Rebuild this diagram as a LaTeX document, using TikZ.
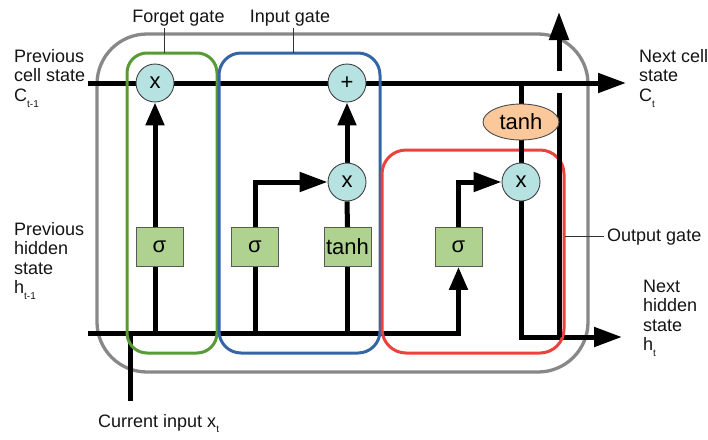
\documentclass[tikz,border=0pt]{standalone}
\usepackage{fontspec}
\setmainfont{Liberation Sans}
\usetikzlibrary{arrows.meta,shapes.geometric}

\pgfdeclarelayer{frame}
\pgfdeclarelayer{wires}
\pgfdeclarelayer{gates}
\pgfdeclarelayer{overwires}
\pgfsetlayers{frame,wires,gates,overwires,main}

\definecolor{opfill}{RGB}{182,226,226}
\definecolor{actfill}{RGB}{175,210,145}
\definecolor{tanhfill}{RGB}{250,200,155}
\definecolor{forgetgreen}{RGB}{88,155,52}
\definecolor{inputblue}{RGB}{52,101,164}
\definecolor{outputred}{RGB}{236,66,62}
\definecolor{cellgray}{RGB}{136,136,136}
\definecolor{inktext}{RGB}{20,20,20}

\newcommand\lsub[1]{\raisebox{-0.32em}{\fontsize{10pt}{10pt}\selectfont #1}}

\tikzset{
  bigtip/.tip={Triangle[length=28pt,width=19pt]},
  vtip/.tip={Triangle[length=23pt,width=18pt]},
  wire/.style={line width=5pt,black},
  opnode/.style={circle,draw=black!75,line width=0.9pt,fill=opfill,
    minimum size=38pt,inner sep=0pt,font=\fontsize{22pt}{22pt}\selectfont},
  actbox/.style={rectangle,draw=black!65,line width=0.9pt,fill=actfill,
    minimum width=47pt,minimum height=39pt,inner sep=0pt,
    font=\fontsize{22pt}{22pt}\selectfont},
  tanhnode/.style={ellipse,draw=black!70,line width=0.9pt,fill=tanhfill,
    minimum width=76pt,minimum height=36pt,inner sep=0pt,
    font=\fontsize{22pt}{22pt}\selectfont},
  gatebox/.style={rectangle,draw,line width=3pt,rounded corners=#1,inner sep=0pt},
  lbl/.style={inner sep=0pt,align=left,text=inktext,
    font=\fontsize{18pt}{19.5pt}\selectfont},
  leader/.style={line width=1pt,black!80},
}

\begin{document}
\begin{tikzpicture}[x=1pt,y=-1pt]
\useasboundingbox (0,0) rectangle (708,439);

% operation nodes
\node[opnode] (fx) at (155,83) {x};
\node[opnode] (plus) at (347,83) {+};
\node[opnode] (ix) at (347,182) {x};
\node[opnode] (ox) at (521,182) {x};
\node[tanhnode] (th) at (521,122) {tanh};
\node[actbox] (fs) at (159.5,247) {σ};
\node[actbox] (is) at (255,247) {σ};
\node[actbox] (tb) at (347.5,247) {tanh};
\node[actbox] (os) at (458.5,247) {σ};

% free ends of the wires
\coordinate (cin) at (88,83);
\coordinate (cout) at (626,83);
\coordinate (hin) at (88,333);
\coordinate (hout) at (622,337);
\coordinate (xin) at (130,401);
\coordinate (ftap) at (155,333);
\coordinate (itap) at (255,333);
\coordinate (ttap) at (347.5,333);
\coordinate (upbase) at (559,337);
\coordinate (upgapa) at (559,93);
\coordinate (upgapb) at (559,71);
\coordinate (uptop) at (559,12);

% LSTM cell frame
\begin{pgfonlayer}{frame}
  \node[gatebox=50pt,draw=cellgray,line width=3.3pt,minimum width=491pt,minimum height=338pt]
    (cell) at (342.5,203) {};
\end{pgfonlayer}

% data paths
\begin{pgfonlayer}{wires}
  \draw[wire,-bigtip] (cin) -- (cout);
  \draw[wire,-vtip] (hin) -| (os.south);
  \draw[wire] (xin) -- ([yshift=-2.5pt]xin |- hin);
  \draw[wire,-vtip] (ftap) -- (fx.south);
  \draw[wire] (itap) -- (is.south);
  \draw[wire,-bigtip] (is.north) |- (ix.west);
  \draw[wire] (ttap) -- (tb.south);
  \draw[wire] (tb.north) -- (ix.south);
  \draw[wire,-vtip] (ix.north) -- (plus.south);
  \draw[wire,-bigtip] (os.north) |- (ox.west);
  \draw[wire,-bigtip] (ox.south) |- (hout);
\end{pgfonlayer}

% gates
\begin{pgfonlayer}{gates}
  \node[gatebox=20pt,draw=forgetgreen,minimum width=90pt,minimum height=300pt]
    (fgate) at (172,203) {};
  \node[gatebox=22pt,draw=inputblue,minimum width=161pt,minimum height=300pt]
    (igate) at (299.5,203) {};
  \node[gatebox=24pt,draw=outputred,minimum width=182pt,minimum height=203pt]
    (ogate) at (473,251.5) {};
\end{pgfonlayer}

% output wires running over the output gate
\begin{pgfonlayer}{overwires}
  \draw[wire] (th.north |- cin) -- (th.north);
  \draw[wire] (th.south) -- (ox.north);
  \draw[wire] (upbase) -- (upgapa);
  \draw[wire,-bigtip] (upgapb) -- (uptop);
\end{pgfonlayer}

% labels
\node[lbl,anchor=north west] (cprev) at (14,49) {Previous\\cell state\\C\lsub{t-1}};
\node[lbl,anchor=north west] (hprev) at (14,222) {Previous\\hidden\\state\\h\lsub{t-1}};
\node[lbl,anchor=north west] (cnext) at (639,49) {Next cell\\state\\C\lsub{t}};
\node[lbl,anchor=north west] (hnext) at (643,279.6) {Next\\hidden\\state\\h\lsub{t}};
\node[lbl,anchor=base west] (xcur) at (98,427) {Current input x\lsub{t}};
\node[lbl,anchor=base] (flab) at (178.5,22.5) {Forget gate};
\node[lbl,anchor=base] (ilab) at (290,22.5) {Input gate};
\node[lbl,anchor=base west] (olab) at (607,241.7) {Output gate};

% label leaders
\coordinate (ftick) at (164,53);
\coordinate (itick) at (293,53);
\draw[leader] (ftick |- 0,28) -- (ftick);
\draw[leader] (itick |- 0,28) -- (itick);
\draw[leader] ([xshift=-3pt]olab.west |- 0,236) -- (565,236);
\end{tikzpicture}
\end{document}
